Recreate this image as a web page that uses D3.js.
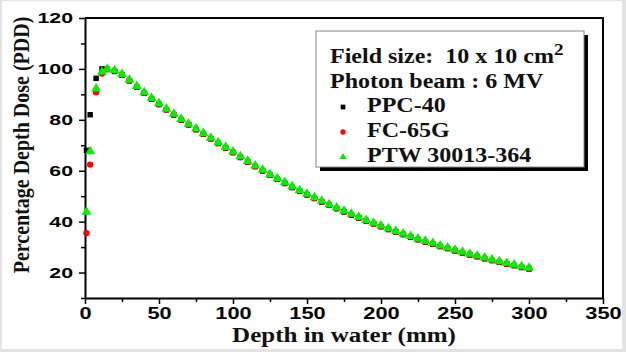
<!DOCTYPE html>
<html>
<head>
<meta charset="utf-8">
<script src="https://cdn.jsdelivr.net/npm/d3@7"></script>
<style>
  body { margin: 0; background: #e3e3e3; }
  #chart { width: 626px; height: 352px; }
  .tick text { font-family: "Liberation Sans", Arial, sans-serif; font-weight: bold; fill: #000; }
  .serif { font-family: "Liberation Serif", "Times New Roman", serif; font-weight: bold; fill: #111; }
</style>
</head>
<body>
<div id="chart"></div>
<script>
// depth in water (mm)
const depth = [1, 3.5, 7.5, 11.5, 15, 20, 25, 30, 35, 40, 45, 50, 55, 60, 65, 70, 75, 80, 85, 90, 95,
  100, 105, 110, 115, 120, 125, 130, 135, 140, 145, 150, 155, 160, 165, 170, 175, 180, 185, 190, 195,
  200, 205, 210, 215, 220, 225, 230, 235, 240, 245, 250, 255, 260, 265, 270, 275, 280, 285, 290, 295, 300];

// PDD values per detector
const ppc40 = [68.0, 82.0, 96.3, 100.0, 99.8, 99.0, 97.5, 95.3, 92.8, 90.4, 88.1, 86.0, 83.9, 81.9, 79.9, 78.0, 76.1, 74.3, 72.5, 70.7, 68.9,
  67.1, 65.2, 63.4, 61.6, 59.9, 58.2, 56.6, 55.0, 53.4, 51.9, 50.5, 49.1, 47.7, 46.4, 45.1, 43.8, 42.6, 41.4, 40.2, 39.1,
  38.0, 36.9, 35.9, 34.9, 33.9, 32.9, 32.0, 31.1, 30.2, 29.4, 28.5, 27.7, 26.9, 26.2, 25.4, 24.7, 24.0, 23.3, 22.7, 22.0, 21.4];
const fc65g = [35.5, 62.4, 90.8, 98.2, 99.9, 99.3, 97.7, 95.5, 93.0, 90.6, 88.3, 86.2, 84.1, 82.1, 80.1, 78.2, 76.3, 74.5, 72.7, 70.9, 69.1,
  67.3, 65.4, 63.6, 61.8, 60.1, 58.4, 56.8, 55.2, 53.6, 52.1, 50.7, 49.3, 47.9, 46.6, 45.3, 44.0, 42.8, 41.6, 40.4, 39.3,
  38.2, 37.1, 36.1, 35.1, 34.1, 33.1, 32.2, 31.3, 30.4, 29.6, 28.7, 27.9, 27.1, 26.4, 25.6, 24.9, 24.2, 23.5, 22.9, 22.2, 21.6];
const ptw30013 = [43.8, 67.6, 92.2, 98.8, 100.0, 99.4, 97.9, 95.7, 93.2, 90.8, 88.5, 86.4, 84.3, 82.3, 80.3, 78.4, 76.5, 74.7, 72.9, 71.1, 69.3,
  67.5, 65.6, 63.8, 62.0, 60.3, 58.6, 57.0, 55.4, 53.8, 52.3, 50.9, 49.5, 48.1, 46.8, 45.5, 44.2, 43.0, 41.8, 40.6, 39.5,
  38.4, 37.3, 36.3, 35.3, 34.3, 33.3, 32.4, 31.5, 30.6, 29.8, 28.9, 28.1, 27.3, 26.6, 25.8, 25.1, 24.4, 23.7, 23.1, 22.4, 21.8];

const seriesNames = ["PPC-40", "FC-65G", "PTW 30013-364"];
const seriesColors = ["#000000", "#ff0000", "#00ee00"];
const xTicks = [0, 50, 100, 150, 200, 250, 300, 350];
const xMinor = [25, 75, 125, 175, 225, 275, 325];
const yTicks = [20, 40, 60, 80, 100, 120];
const yMinor = [10, 30, 50, 70, 90, 110];

const width = 626, height = 352;

// the source picture is stretched sideways, so text gets widened a little
function stretch(sel, k) {
  sel.each(function() {
    const w = this.getComputedTextLength();
    d3.select(this).attr("textLength", w * k).attr("lengthAdjust", "spacingAndGlyphs");
  });
}

const svg = d3.select("#chart").append("svg")
  .attr("width", width)
  .attr("height", height);

svg.append("rect")
  .attr("x", 2).attr("y", 1)
  .attr("width", 620).attr("height", 348)
  .attr("fill", "#fff");

const x = d3.scaleLinear().domain([0, 350]).range([85, 603]);
const y = d3.scaleLinear().domain([10, 120]).range([298, 18]);

// frame: top and right
svg.append("path")
  .attr("d", `M${x(0)},${y(120)}H${x(350)}V${y(10)}`)
  .attr("fill", "none")
  .attr("stroke", "#000")
  .attr("stroke-width", 2);

// minor ticks
svg.append("g")
  .attr("transform", `translate(0,${y(10)})`)
  .call(d3.axisBottom(x).tickValues(xMinor).tickSize(4).tickSizeOuter(0).tickFormat(""))
  .call(g => g.select(".domain").remove())
  .selectAll("line").attr("stroke-width", 1.5);
svg.append("g")
  .attr("transform", `translate(${x(0)},0)`)
  .call(d3.axisLeft(y).tickValues(yMinor).tickSize(4).tickSizeOuter(0).tickFormat(""))
  .call(g => g.select(".domain").remove())
  .selectAll("line").attr("stroke-width", 1.5);

// major axes
const xAxis = svg.append("g")
  .attr("transform", `translate(0,${y(10)})`)
  .call(d3.axisBottom(x).tickValues(xTicks).tickSize(6).tickSizeOuter(0).tickPadding(3));
xAxis.select(".domain").attr("stroke-width", 2);
xAxis.selectAll("line").attr("stroke-width", 1.5);
xAxis.selectAll("text").style("font-size", "17px").call(stretch, 1.28);

const yAxis = svg.append("g")
  .attr("transform", `translate(${x(0)},0)`)
  .call(d3.axisLeft(y).tickValues(yTicks).tickSize(6).tickSizeOuter(0).tickPadding(6));
yAxis.select(".domain").attr("stroke-width", 2);
yAxis.selectAll("line").attr("stroke-width", 1.5);
yAxis.selectAll("text").style("font-size", "15px").call(stretch, 1.42);

// axis titles
svg.append("text")
  .attr("class", "serif")
  .attr("x", 344).attr("y", 342)
  .attr("text-anchor", "middle")
  .style("font-size", "20px")
  .text("Depth in water (mm)")
  .call(stretch, 1.25);

svg.append("text")
  .attr("class", "serif")
  .attr("transform", "translate(29,145) scale(1.12,1) rotate(-90)")
  .attr("text-anchor", "middle")
  .style("font-size", "20px")
  .text("Percentage Depth Dose (PDD)");

// data points
const symbols = [d3.symbolSquare, d3.symbolCircle, d3.symbolTriangle];
const sizes = [30, 32, 42];
const allSeries = [ppc40, fc65g, ptw30013];

allSeries.forEach((vals, i) => {
  const pts = depth.map((d, j) => ({ d: d, v: vals[j] }));
  svg.append("g")
    .selectAll("path")
    .data(pts)
    .join("path")
    .attr("transform", p => `translate(${x(p.d)},${y(p.v)})`)
    .attr("d", d3.symbol().type(symbols[i]).size(sizes[i]))
    .attr("fill", seriesColors[i]);
});

// legend
const legend = svg.append("g");
legend.append("rect")
  .attr("x", 320).attr("y", 35)
  .attr("width", 268).attr("height", 136)
  .attr("fill", "#000");
legend.append("rect")
  .attr("x", 316).attr("y", 31)
  .attr("width", 268).attr("height", 136)
  .attr("fill", "#fff")
  .attr("stroke", "#888")
  .attr("stroke-width", 1);

const title1 = legend.append("text")
  .attr("class", "serif")
  .attr("x", 330).attr("y", 63)
  .style("font-size", "20px")
  .attr("xml:space", "preserve");
title1.append("tspan").text("Field size:  10 x 10 cm");
title1.append("tspan").attr("dy", -8).style("font-size", "16px").text("2");
title1.call(stretch, 1.2);

legend.append("text")
  .attr("class", "serif")
  .attr("x", 330).attr("y", 88)
  .style("font-size", "20px")
  .text("Photon beam : 6 MV")
  .call(stretch, 1.2);

seriesNames.forEach((name, i) => {
  const ly = 112 + i * 25;
  legend.append("path")
    .attr("transform", `translate(343,${ly - 5})`)
    .attr("d", d3.symbol().type(symbols[i]).size(22))
    .attr("fill", seriesColors[i]);
  legend.append("text")
    .attr("class", "serif")
    .attr("x", 367).attr("y", ly)
    .style("font-size", "20px")
    .text(name)
    .call(stretch, 1.2);
});
</script>
</body>
</html>
